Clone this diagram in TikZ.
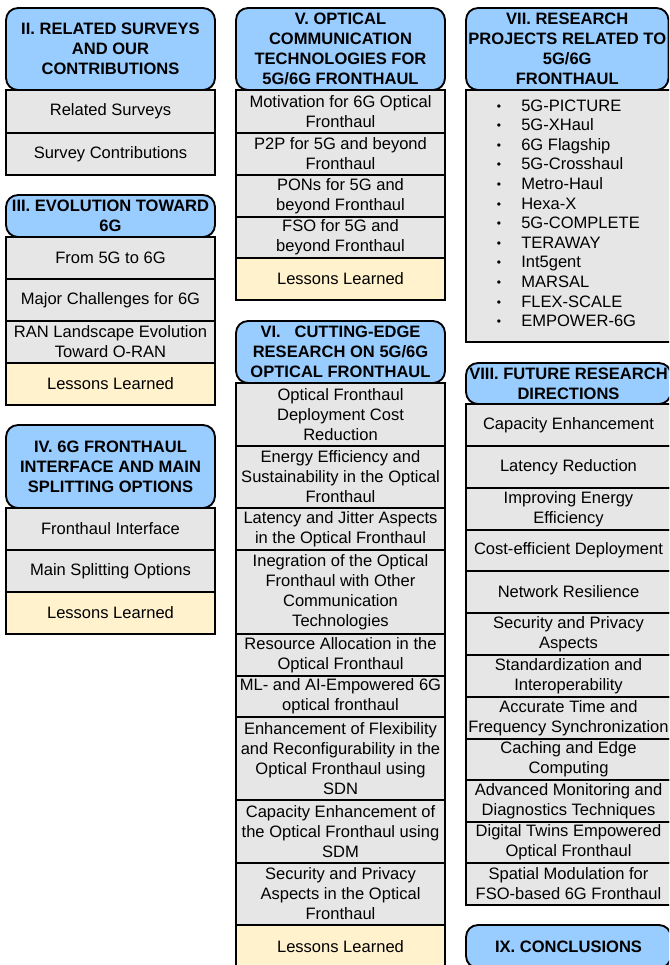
\documentclass[tikz,border=0pt]{standalone}
\usepackage{fontspec}
\setmainfont{Liberation Sans}

\definecolor{headblue}{HTML}{99CCFF}
\definecolor{cellgray}{HTML}{E6E6E6}
\definecolor{lessonyellow}{HTML}{FFF2CC}

\newcommand{\boxfont}{\fontsize{12.4}{15}\selectfont}

\tikzset{%
  head/.style={
    draw,
    line width=1.4pt,
    fill=headblue,
    rounded corners=9pt
  },
  cell/.style={
    draw,
    line width=1.4pt,
    fill=cellgray
  },
  lesson/.style={
    draw,
    line width=1.4pt,
    fill=lessonyellow
  },
  head text/.style={
    font=\boxfont\bfseries,
    align=center
  },
  cell text/.style={
    font=\boxfont,
    align=center
  },
}

\begin{document}
\begin{tikzpicture}[x=0.75pt,y=-0.75pt]
\clip (0,0) rectangle (669,965);
% column one
\draw[head] (6,8) rectangle (215,90) node[pos=.5,head text] (sec2) {II. RELATED SURVEYS\\AND OUR\\CONTRIBUTIONS};
\draw[cell] (6,90) rectangle (215,133) node[pos=.5,cell text] (sec2a) {Related Surveys};
\draw[cell] (6,133) rectangle (215,175) node[pos=.5,cell text] (sec2b) {Survey Contributions};

\draw[head] (6,195) rectangle (215,237) node[pos=.5,head text] (sec3) {III. EVOLUTION TOWARD\\6G};
\draw[cell] (6,237) rectangle (215,279) node[pos=.5,cell text] (sec3a) {From 5G to 6G};
\draw[cell] (6,279) rectangle (215,321) node[pos=.5,cell text] (sec3b) {Major Challenges for 6G};
\draw[cell] (6,321) rectangle (215,363) node[pos=.5,cell text] (sec3c) {RAN Landscape Evolution\\Toward O-RAN};
\draw[lesson] (6,363) rectangle (215,405) node[pos=.5,cell text] (sec3d) {Lessons Learned};

\draw[head] (6,425) rectangle (215,508) node[pos=.5,head text] (sec4) {IV. 6G FRONTHAUL\\INTERFACE AND MAIN\\SPLITTING OPTIONS};
\draw[cell] (6,508) rectangle (215,550) node[pos=.5,cell text] (sec4a) {Fronthaul Interface};
\draw[cell] (6,550) rectangle (215,592) node[pos=.5,cell text] (sec4b) {Main Splitting Options};
\draw[lesson] (6,592) rectangle (215,634) node[pos=.5,cell text] (sec4c) {Lessons Learned};

% column two
\draw[head] (236,8) rectangle (445,90) node[pos=.5,head text] (sec5) {V. OPTICAL\\COMMUNICATION\\TECHNOLOGIES FOR\\5G/6G FRONTHAUL};
\draw[cell] (236,90) rectangle (445,133) node[pos=.5,cell text] (sec5a) {Motivation for 6G Optical\\Fronthaul};
\draw[cell] (236,133) rectangle (445,175) node[pos=.5,cell text] (sec5b) {P2P for 5G and beyond\\Fronthaul};
\draw[cell] (236,175) rectangle (445,217) node[pos=.5,cell text] (sec5c) {PONs for 5G and\\beyond Fronthaul};
\draw[cell] (236,217) rectangle (445,258) node[pos=.5,cell text] (sec5d) {FSO for 5G and\\beyond Fronthaul};
\draw[lesson] (236,258) rectangle (445,300) node[pos=.5,cell text] (sec5e) {Lessons Learned};

\draw[head] (236,321) rectangle (445,383) node[pos=.5,head text] (sec6) {VI.\ \ \ CUTTING-EDGE\\RESEARCH ON 5G/6G\\OPTICAL FRONTHAUL};
\draw[cell] (236,383) rectangle (445,446) node[pos=.5,cell text] (sec6a) {Optical Fronthaul\\Deployment Cost\\Reduction};
\draw[cell] (236,446) rectangle (445,508) node[pos=.5,cell text] (sec6b) {Energy Efficiency and\\Sustainability in the Optical\\Fronthaul};
\draw[cell] (236,508) rectangle (445,550) node[pos=.5,cell text] (sec6c) {Latency and Jitter Aspects\\in the Optical Fronthaul};
\draw[cell] (236,550) rectangle (445,634) node[pos=.5,cell text] (sec6d) {Inegration of the Optical\\Fronthaul with Other\\Communication\\Technologies};
\draw[cell] (236,634) rectangle (445,676) node[pos=.5,cell text] (sec6e) {Resource Allocation in the\\Optical Fronthaul};
\draw[cell] (236,676) rectangle (445,717) node[pos=.5,cell text] (sec6f) {ML- and AI-Empowered 6G\\optical fronthaul};
\draw[cell] (236,717) rectangle (445,800) node[pos=.5,cell text] (sec6g) {Enhancement of Flexibility\\and Reconfigurability in the\\Optical Fronthaul using\\SDN};
\draw[cell] (236,800) rectangle (445,863) node[pos=.5,cell text] (sec6h) {Capacity Enhancement of\\the Optical Fronthaul using\\SDM};
\draw[cell] (236,863) rectangle (445,925) node[pos=.5,cell text] (sec6i) {Security and Privacy\\Aspects in the Optical\\Fronthaul};
\draw[lesson] (236,925) rectangle (445,968) node[pos=.5,cell text] (sec6j) {Lessons Learned};

% column three
\draw[head] (466,8) rectangle (668.5,90) node[pos=.5,head text] (sec7) {VII. RESEARCH\\PROJECTS RELATED TO\\5G/6G\\FRONTHAUL};
\draw[cell] (466,90) rectangle (671,342);
\foreach \proj [count=\i from 0] in {5G-PICTURE,5G-XHaul,6G Flagship,5G-Crosshaul,Metro-Haul,Hexa-X,5G-COMPLETE,TERAWAY,Int5gent,MARSAL,FLEX-SCALE,EMPOWER-6G}
{
  \node[font=\fontsize{9}{10}\selectfont,anchor=base,inner sep=0pt] (dot\i) at (499,110+19.6*\i) {\textbullet};
  \node[font=\boxfont,anchor=base west,inner sep=0pt] (proj\i) at (521,111+19.6*\i) {\proj};
}

\draw[head] (466,363) rectangle (671,404) node[pos=.5,head text] (sec8) {VIII. FUTURE RESEARCH\\DIRECTIONS};
\draw[cell] (466,404) rectangle (671,446) node[pos=.5,cell text] (sec8a) {Capacity Enhancement};
\draw[cell] (466,446) rectangle (671,488) node[pos=.5,cell text] (sec8b) {Latency Reduction};
\draw[cell] (466,488) rectangle (671,530) node[pos=.5,cell text] (sec8c) {Improving Energy\\Efficiency};
\draw[cell] (466,530) rectangle (671,571) node[pos=.5,cell text] (sec8d) {Cost-efficient Deployment};
\draw[cell] (466,571) rectangle (671,613) node[pos=.5,cell text] (sec8e) {Network Resilience};
\draw[cell] (466,613) rectangle (671,655) node[pos=.5,cell text] (sec8f) {Security and Privacy\\Aspects};
\draw[cell] (466,655) rectangle (671,697) node[pos=.5,cell text] (sec8g) {Standardization and\\Interoperability};
\draw[cell] (466,697) rectangle (671,739) node[pos=.5,cell text] (sec8h) {Accurate Time and\\Frequency Synchronization};
\draw[cell] (466,739) rectangle (671,780) node[pos=.5,cell text] (sec8i) {Caching and Edge\\Computing};
\draw[cell] (466,780) rectangle (671,822) node[pos=.5,cell text] (sec8j) {Advanced Monitoring and\\Diagnostics Techniques};
\draw[cell] (466,822) rectangle (671,863) node[pos=.5,cell text] (sec8k) {Digital Twins Empowered\\Optical Fronthaul};
\draw[cell] (466,863) rectangle (671,905) node[pos=.5,cell text] (sec8l) {Spatial Modulation for\\FSO-based 6G Fronthaul};

\draw[head] (466,925) rectangle (671,968) node[pos=.5,head text] (sec9) {IX. CONCLUSIONS};
\end{tikzpicture}
\end{document}
